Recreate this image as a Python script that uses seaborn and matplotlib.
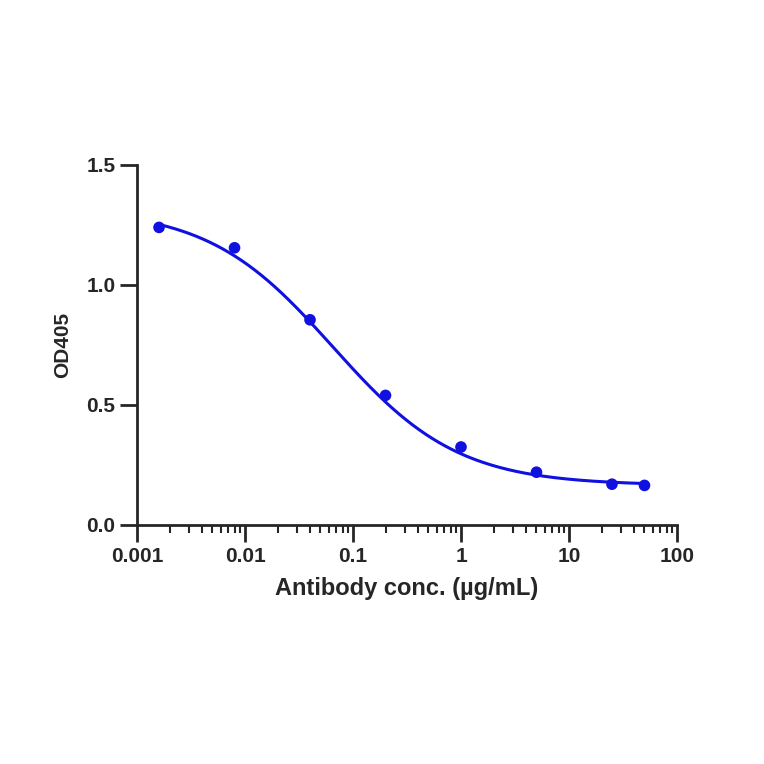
import numpy as np
import pandas as pd
import matplotlib
matplotlib.use("Agg")
import matplotlib.pyplot as plt
import seaborn as sns
from matplotlib.ticker import LogLocator, FixedLocator, NullFormatter

conc = [0.0016, 0.008, 0.04, 0.2, 1, 5, 25, 50]
od405 = [1.24, 1.155, 0.855, 0.54, 0.325, 0.22, 0.17, 0.165]
# 4PL fit parameters (bottom, top, IC50, hill)
fit_bottom, fit_top, fit_ic50, fit_hill = 0.165, 1.32, 0.065, 0.75

sns.set_style("ticks")
plt.rcParams['font.family'] = ['Liberation Sans', 'DejaVu Sans']
plt.rcParams['font.weight'] = 'bold'

fig = plt.figure(figsize=(7.64, 7.64), dpi=100)
ax = fig.add_axes([137/764, 1-525/764, 540/764, 360/764])

xs = np.logspace(np.log10(conc[0]), np.log10(conc[-1]), 300)
ys = fit_bottom + (fit_top - fit_bottom) / (1 + (xs / fit_ic50) ** fit_hill)
sns.lineplot(x=xs, y=ys, ax=ax, color="#1010e0", lw=2.2)
df = pd.DataFrame({"conc": conc, "od": od405})
sns.scatterplot(data=df, x="conc", y="od", ax=ax, color="#1010e0", s=70, edgecolor="none", zorder=3)

ax.set_xscale("log")
ax.set_xlim(0.001, 100)
ax.set_ylim(0, 1.5)
ax.set_xticks([0.001, 0.01, 0.1, 1, 10, 100])
ax.set_xticklabels(["0.001", "0.01", "0.1", "1", "10", "100"])
ax.xaxis.set_minor_locator(LogLocator(base=10, subs=np.arange(2, 10)))
ax.xaxis.set_minor_formatter(NullFormatter())
ax.set_yticks([0, 0.5, 1.0, 1.5])
ax.set_yticklabels(["0.0", "0.5", "1.0", "1.5"])
for s in ["top", "right"]:
    ax.spines[s].set_visible(False)
for s in ["left", "bottom"]:
    ax.spines[s].set_linewidth(2)
ax.spines["left"].set_position(("outward", 0))
ax.tick_params(axis="both", which="major", width=2, length=12, labelsize=15, direction="out")
ax.tick_params(axis="x", which="minor", width=1.5, length=6)
ax.set_xlabel("Antibody conc. (µg/mL)", fontsize=17, fontweight="bold", labelpad=8)
ax.set_ylabel("OD405", fontsize=15, fontweight="bold", labelpad=10)
for lab in ax.get_xticklabels() + ax.get_yticklabels():
    lab.set_fontweight("bold")
fig.savefig("out.png", dpi=100)
